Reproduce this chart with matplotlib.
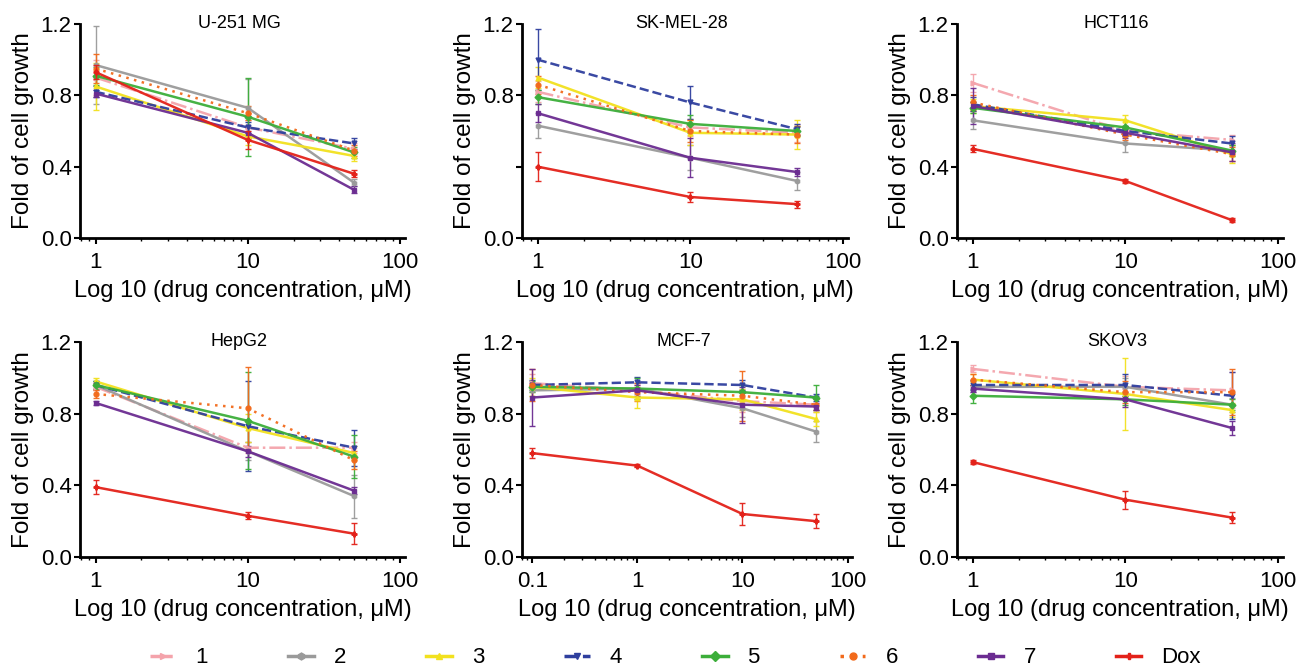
from __future__ import annotations

from typing import List

import numpy as np
import matplotlib
matplotlib.use("Agg")
import matplotlib.pyplot as plt
from matplotlib.lines import Line2D

plt.rcParams["font.family"] = ["Liberation Sans", "DejaVu Sans"]

# --- data (rows: 1, 2, 3, 4, 5, 6, 7, Dox) ---
series_names = ["1", "2", "3", "4", "5", "6", "7", "Dox"]
conc = [1, 10, 50]
conc_mcf7 = [0.1, 1, 10, 50]

u251_mean = [[0.90, 0.62, 0.50], [0.97, 0.73, 0.31], [0.85, 0.57, 0.46], [0.82, 0.62, 0.53],
             [0.91, 0.68, 0.48], [0.95, 0.70, 0.49], [0.81, 0.59, 0.27], [0.93, 0.55, 0.36]]
u251_err = [[0.10, 0.04, 0.03], [0.22, 0.16, 0.02], [0.13, 0.05, 0.03], [0.03, 0.03, 0.03],
            [0.05, 0.22, 0.03], [0.08, 0.04, 0.03], [0.02, 0.03, 0.02], [0.04, 0.05, 0.02]]

skmel_mean = [[0.82, 0.62, 0.59], [0.63, 0.45, 0.32], [0.90, 0.59, 0.58], [1.00, 0.76, 0.61],
              [0.79, 0.64, 0.60], [0.86, 0.60, 0.58], [0.70, 0.45, 0.37], [0.40, 0.23, 0.19]]
skmel_err = [[0.06, 0.05, 0.05], [0.07, 0.07, 0.05], [0.06, 0.07, 0.08], [0.17, 0.09, 0.03],
             [0.04, 0.05, 0.03], [0.05, 0.06, 0.05], [0.05, 0.11, 0.02], [0.08, 0.03, 0.02]]

hct_mean = [[0.87, 0.60, 0.55], [0.66, 0.53, 0.49], [0.74, 0.66, 0.47], [0.75, 0.60, 0.53],
            [0.73, 0.62, 0.49], [0.76, 0.58, 0.47], [0.74, 0.59, 0.48], [0.50, 0.32, 0.10]]
hct_err = [[0.05, 0.03, 0.03], [0.05, 0.05, 0.03], [0.04, 0.03, 0.05], [0.04, 0.03, 0.04],
           [0.03, 0.04, 0.03], [0.04, 0.03, 0.04], [0.10, 0.03, 0.05], [0.02, 0.01, 0.01]]

hepg2_mean = [[0.95, 0.61, 0.61], [0.96, 0.59, 0.34], [0.98, 0.72, 0.58], [0.96, 0.73, 0.61],
              [0.96, 0.76, 0.56], [0.91, 0.83, 0.54], [0.86, 0.59, 0.37], [0.39, 0.23, 0.13]]
hepg2_err = [[0.02, 0.03, 0.03], [0.02, 0.05, 0.12], [0.02, 0.08, 0.04], [0.02, 0.25, 0.10],
             [0.02, 0.27, 0.12], [0.02, 0.23, 0.05], [0.01, 0.03, 0.02], [0.04, 0.02, 0.06]]

mcf7_mean = [[0.97, 0.93, 0.87, 0.85], [0.93, 0.94, 0.83, 0.70], [0.95, 0.89, 0.88, 0.77],
             [0.96, 0.975, 0.96, 0.89], [0.95, 0.94, 0.92, 0.89], [0.96, 0.92, 0.90, 0.85],
             [0.89, 0.93, 0.85, 0.84], [0.58, 0.51, 0.24, 0.20]]
mcf7_err = [[0.05, 0.03, 0.06, 0.04], [0.03, 0.03, 0.05, 0.06], [0.05, 0.06, 0.06, 0.04],
            [0.03, 0.03, 0.03, 0.02], [0.03, 0.06, 0.04, 0.07], [0.09, 0.05, 0.14, 0.03],
            [0.16, 0.03, 0.10, 0.02], [0.03, 0.01, 0.06, 0.04]]

skov3_mean = [[1.05, 0.95, 0.93], [0.95, 0.95, 0.85], [0.99, 0.91, 0.82], [0.96, 0.96, 0.90],
              [0.90, 0.88, 0.85], [0.99, 0.92, 0.92], [0.94, 0.88, 0.72], [0.53, 0.32, 0.22]]
skov3_err = [[0.02, 0.06, 0.10], [0.03, 0.05, 0.04], [0.03, 0.20, 0.04], [0.03, 0.06, 0.13],
             [0.04, 0.03, 0.03], [0.03, 0.06, 0.13], [0.02, 0.04, 0.04], [0.01, 0.05, 0.03]]

# --- styles ---
colors = ["#f4a3ab", "#9a9a9a", "#f2e11e", "#2f3f9e", "#3cae3a", "#f26a1b", "#6b2c91", "#e32119"]
styles = ["-.", "-", "-", "--", "-", (0, (1, 2.2)), "-", "-"]
markers = [">", "h", "^", "v", "D", "o", "s", "P"]


def draw_panel(ax, title: str, x: List[float], means, errs, xlim, xticks, xticklabels,
               hide_04: bool = False) -> None:
    for i in range(len(series_names)):
        ax.errorbar(x, means[i], yerr=errs[i], color=colors[i], linestyle=styles[i],
                    linewidth=1.8, marker=markers[i], markersize=3.5,
                    elinewidth=1.0, capsize=2, ecolor=colors[i], alpha=0.95,
                    zorder=3 if i < 7 else 4)
    ax.set_xscale("log")
    ax.set_xlim(*xlim)
    ax.set_ylim(0, 1.2)
    ax.set_xticks(xticks)
    ax.set_xticklabels(xticklabels)
    ax.set_yticks([0.0, 0.4, 0.8, 1.2])
    ylabels = ["0.0", "0.4", "0.8", "1.2"]
    if hide_04:
        ylabels[1] = ""
    ax.set_yticklabels(ylabels)
    for s in ("top", "right"):
        ax.spines[s].set_visible(False)
    for s in ("left", "bottom"):
        ax.spines[s].set_linewidth(2.0)
    ax.tick_params(axis="both", labelsize=16, width=1.5, length=4)
    ax.tick_params(axis="x", pad=6)
    ax.tick_params(axis="y", pad=2)
    ax.tick_params(axis="x", which="minor", length=2, width=1.0)
    ax.set_xlabel("Log 10 (drug concentration, μM)", fontsize=17, labelpad=5)
    ax.set_ylabel("Fold of cell growth", fontsize=17.5, labelpad=5)
    ax.text(0.49, 1.0, title, transform=ax.transAxes, ha="center", va="center", fontsize=13)


def main():
    W, H = 1299, 670
    fig = plt.figure(figsize=(W / 100, H / 100), dpi=100)

    def rect(left, right, top, bottom):
        return [left / W, 1 - bottom / H, (right - left) / W, (bottom - top) / H]

    ax1 = fig.add_axes(rect(80, 405, 24, 238))
    ax2 = fig.add_axes(rect(522, 848, 24, 238))
    ax3 = fig.add_axes(rect(957, 1283, 24, 238))
    ax4 = fig.add_axes(rect(80, 405, 342, 557))
    ax5 = fig.add_axes(rect(522, 852, 342, 557))
    ax6 = fig.add_axes(rect(957, 1283, 342, 557))

    xl = (0.79, 108)
    tk = [1, 10, 100]
    tl = ["1", "10", "100"]
    draw_panel(ax1, "U-251 MG", conc, u251_mean, u251_err, xl, tk, tl)
    draw_panel(ax2, "SK-MEL-28", conc, skmel_mean, skmel_err, xl, tk, tl, hide_04=True)
    draw_panel(ax3, "HCT116", conc, hct_mean, hct_err, xl, tk, tl)
    draw_panel(ax4, "HepG2", conc, hepg2_mean, hepg2_err, xl, tk, tl)
    draw_panel(ax5, "MCF-7", conc_mcf7, mcf7_mean, mcf7_err, (0.08, 110),
               [0.1, 1, 10, 100], ["0.1", "1", "10", "100"])
    draw_panel(ax6, "SKOV3", conc, skov3_mean, skov3_err, xl, tk, tl)

    handles = [Line2D([0], [0], color=colors[i], linestyle=styles[i], linewidth=2.5,
                      marker=markers[i], markersize=5) for i in range(len(series_names))]
    fig.legend(handles, series_names, loc="center", bbox_to_anchor=(0.52, 0.018),
               ncol=8, frameon=False, fontsize=16, handlelength=1.15, handletextpad=0.9,
               columnspacing=3.6)

    fig.savefig("out.png", dpi=100)


if __name__ == "__main__":
    main()
